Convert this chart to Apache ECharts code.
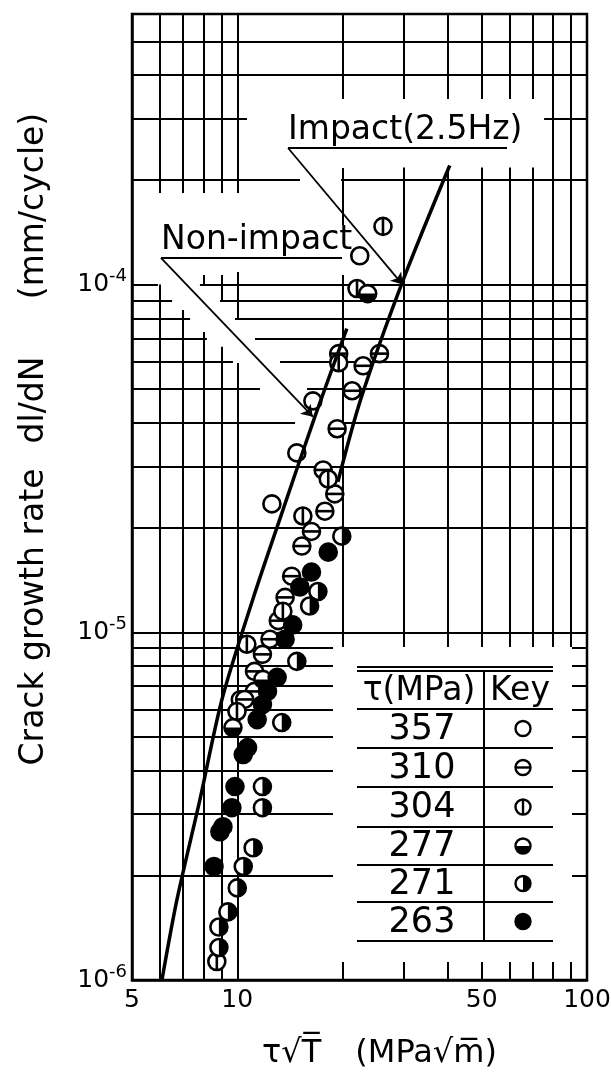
<!DOCTYPE html>
<html>
<head>
<meta charset="utf-8">
<script src="https://cdn.jsdelivr.net/npm/echarts@6/dist/echarts.min.js"></script>
<style>
html, body { margin: 0; padding: 0; background: #fff; }
#chart { width: 611px; height: 1072px; }
</style>
</head>
<body>
<div id="chart"></div>
<script>
// stress levels (MPa), same order as the key table
const tauLevels = ['357', '310', '304', '277', '271', '263'];
const keyKinds = ['open', 'hline', 'vline', 'bottom', 'right', 'filled'];

// tau*sqrt(T) (MPa m^1/2) vs dl/dN (mm/cycle)
const x357 = [22.4, 16.45, 14.8, 12.56, 10.2];
const y357 = [1.21e-4, 4.63e-5, 3.28e-5, 2.34e-5, 6.4e-6];

const x310 = [19.5, 25.5, 22.9, 21.3, 19.3, 17.6, 19.0, 17.8, 16.3, 15.3, 14.3, 13.7, 13.1, 12.4, 11.8, 11.2, 11.2, 10.5];
const y310 = [6.33e-5, 6.33e-5, 5.84e-5, 4.95e-5, 3.85e-5, 2.93e-5, 2.50e-5, 2.23e-5, 1.95e-5, 1.77e-5, 1.45e-5, 1.26e-5, 1.08e-5, 9.55e-6, 8.64e-6, 7.72e-6, 6.76e-6, 6.41e-6];

const x304 = [26.1, 22.0, 19.5, 18.2, 15.4, 13.5, 10.65, 9.98, 8.74];
const y304 = [1.47e-4, 9.74e-5, 5.96e-5, 2.76e-5, 2.16e-5, 1.15e-5, 9.24e-6, 5.92e-6, 1.13e-6];

const x277 = [23.6, 9.72, 11.84];
const y277 = [9.42e-5, 5.32e-6, 7.32e-6];

const x271 = [19.9, 17.0, 16.1, 14.8, 13.4, 11.8, 11.8, 11.1, 10.4, 10.0, 9.4, 8.86, 8.86];
const y271 = [1.89e-5, 1.31e-5, 1.19e-5, 8.25e-6, 5.50e-6, 3.60e-6, 3.13e-6, 2.40e-6, 2.12e-6, 1.84e-6, 1.57e-6, 1.42e-6, 1.24e-6];

const x263 = [18.2, 16.3, 15.1, 14.4, 13.7, 13.0, 12.2, 11.8, 11.4, 10.7, 10.4, 9.85, 9.65, 9.1, 8.92, 8.58];
const y263 = [1.70e-5, 1.49e-5, 1.35e-5, 1.05e-5, 9.55e-6, 7.42e-6, 6.76e-6, 6.20e-6, 5.61e-6, 4.66e-6, 4.45e-6, 3.60e-6, 3.13e-6, 2.76e-6, 2.67e-6, 2.12e-6];

// fitted bands
const nonImpactX = [6.09, 6.72, 7.82, 9.04, 11.08, 13.24, 16.67, 20.57];
const nonImpactY = [1.0e-6, 1.7e-6, 3.3e-6, 6.41e-6, 1.245e-5, 2.12e-5, 4.17e-5, 7.47e-5];
const impactX = [19.4, 22.56, 29.54, 40.5];
const impactY = [2.71e-5, 4.69e-5, 1.007e-4, 2.2e-4];

// arrows from the labels to the lines
const impactArrow = [[13.97, 2.47e-4], [29.7, 1.0e-4]];
const nonImpactArrow = [[6.05, 1.193e-4], [16.45, 4.17e-5]];

// axis labels
const xTickLabels = [5, 10, 50, 100];
const yTickLabels = [1e-6, 1e-5, 1e-4];

// log paper, drawn in pieces as on the original (erased round the labels and the key)
// vertical: [x, [yFrom, yTo], ...]
const vGrid = [
    [6, [1.834e-4, 6e-4], [1e-6, 1e-4]],
    [7, [1.834e-4, 6e-4], [1e-6, 8.45e-5]],
    [8, [1.834e-4, 6e-4], [1e-4, 1.066e-4], [1e-6, 7.31e-5]],
    [9, [1.834e-4, 6e-4], [9e-5, 1.066e-4], [1e-6, 6.62e-5]],
    [10, [1.834e-4, 6e-4], [8e-5, 1.087e-4], [1e-6, 5.95e-5]],
    [20, [3.42e-4, 6e-4], [1.484e-4, 2.165e-4], [9.07e-6, 1.066e-4], [1e-6, 1.127e-6]],
    [30, [3.42e-4, 6e-4], [9.07e-6, 2.17e-4], [1e-6, 1.127e-6]],
    [40, [3.42e-4, 6e-4], [9.07e-6, 2.17e-4], [1e-6, 1.127e-6]],
    [50, [3.42e-4, 6e-4], [9.07e-6, 2.17e-4], [1e-6, 1.127e-6]],
    [60, [3.42e-4, 6e-4], [9.07e-6, 2.17e-4], [1e-6, 1.127e-6]],
    [70, [3.42e-4, 6e-4], [9.07e-6, 2.17e-4], [1e-6, 1.127e-6]],
    [80, [9.07e-6, 6e-4], [1e-6, 1.127e-6]],
    [90, [9.07e-6, 6e-4], [1e-6, 1.127e-6]]
];
// horizontal: [y, [xFrom, xTo], ...]
const hGrid = [
    [5e-4, [5, 100]],
    [4e-4, [5, 100]],
    [3e-4, [5, 10.66], [75.4, 100]],
    [2e-4, [5, 15.11], [19.8, 100]],
    [1e-4, [5, 5.93], [7.82, 100]],
    [9e-5, [5, 6.51], [8.92, 100]],
    [8e-5, [5, 7.33], [9.85, 100]],
    [7e-5, [5, 8.19], [11.24, 100]],
    [6e-5, [5, 9.72], [13.25, 100]],
    [5e-5, [5, 11.61], [15.83, 100]],
    [4e-5, [5, 14.63], [18.42, 100]],
    [3e-5, [5, 100]],
    [2e-5, [5, 100]],
    [1e-5, [5, 100]],
    [9e-6, [5, 18.78], [90.6, 100]],
    [8e-6, [5, 18.78], [90.6, 100]],
    [7e-6, [5, 18.78], [90.6, 100]],
    [6e-6, [5, 18.78], [90.6, 100]],
    [5e-6, [5, 18.78], [90.6, 100]],
    [4e-6, [5, 18.78], [90.6, 100]],
    [3e-6, [5, 18.78], [90.6, 100]],
    [2e-6, [5, 18.78], [90.6, 100]]
];

const FONT = '"DejaVu Sans", sans-serif';
const zip = (xs, ys) => xs.map((x, i) => [x, ys[i]]);
const seriesX = [x357, x310, x304, x277, x271, x263];
const seriesY = [y357, y310, y304, y277, y271, y263];

const gridSegments = [];
vGrid.forEach(([x, ...spans]) => spans.forEach(s => gridSegments.push([{ coord: [x, s[0]] }, { coord: [x, s[1]] }])));
hGrid.forEach(([y, ...spans]) => spans.forEach(s => gridSegments.push([{ coord: [s[0], y] }, { coord: [s[1], y] }])));

const chart = echarts.init(document.getElementById('chart'));

function keyShape(kind, cx, cy, r, lw) {
    const shapes = [{
        type: 'circle',
        shape: { cx: cx, cy: cy, r: r },
        style: { fill: kind === 'filled' ? '#000' : '#fff', stroke: '#000', lineWidth: lw }
    }];
    if (kind === 'hline') {
        shapes.push({ type: 'line', shape: { x1: cx - r, y1: cy, x2: cx + r, y2: cy }, style: { stroke: '#000', lineWidth: lw } });
    } else if (kind === 'vline') {
        shapes.push({ type: 'line', shape: { x1: cx, y1: cy - r, x2: cx, y2: cy + r }, style: { stroke: '#000', lineWidth: lw } });
    } else if (kind === 'bottom') {
        shapes.push({ type: 'sector', shape: { cx: cx, cy: cy, r0: 0, r: r, startAngle: 0, endAngle: Math.PI }, style: { fill: '#000' } });
    } else if (kind === 'right') {
        shapes.push({ type: 'sector', shape: { cx: cx, cy: cy, r0: 0, r: r, startAngle: -Math.PI / 2, endAngle: Math.PI / 2 }, style: { fill: '#000' } });
    }
    return shapes;
}

const pointSeries = tauLevels.map((tau, i) => ({
    name: tau,
    type: 'custom',
    z: 8,
    silent: true,
    data: zip(seriesX[i], seriesY[i]),
    encode: { x: 0, y: 1 },
    renderItem: function (params, api) {
        const p = api.coord([api.value(0), api.value(1)]);
        return { type: 'group', children: keyShape(keyKinds[i], p[0], p[1], 8.5, 2.6) };
    }
}));

function label(text, x, y, size, extra) {
    return Object.assign({
        type: 'text', z: 12, x: x, y: y,
        style: { text: text, fontSize: size, fontFamily: FONT, fill: '#000', align: 'center', verticalAlign: 'middle' }
    }, extra || {});
}

// key table
const rowLines = [709, 748, 787, 827, 865, 902, 941];
const tableEls = [
    { type: 'line', z: 12, shape: { x1: 357, y1: 667, x2: 553, y2: 667 }, style: { stroke: '#000', lineWidth: 1.8 } },
    { type: 'line', z: 12, shape: { x1: 357, y1: 671, x2: 553, y2: 671 }, style: { stroke: '#000', lineWidth: 1.8 } },
    { type: 'line', z: 12, shape: { x1: 484, y1: 671, x2: 484, y2: 941 }, style: { stroke: '#000', lineWidth: 2 } },
    label('τ(MPa)', 419, 691, 33),
    label('Key', 520, 691, 33)
];
rowLines.forEach(y => {
    tableEls.push({ type: 'line', z: 12, shape: { x1: 357, y1: y, x2: 553, y2: y }, style: { stroke: '#000', lineWidth: 2 } });
});
tauLevels.forEach((tau, i) => {
    const cy = (rowLines[i] + rowLines[i + 1]) / 2;
    tableEls.push(label(tau, 422, cy + 1, 35));
    tableEls.push({ type: 'group', z: 12, children: keyShape(keyKinds[i], 523, cy, 7.5, 2.4).map(s => Object.assign(s, { z: 12 })) });
});

// labels on the plot, y title in its three pieces
const rot = { rotation: Math.PI / 2 };
const textEls = [
    { type: 'text', z: 12, x: 288, y: 147, style: { text: 'Impact(2.5Hz)', fontSize: 33, fontFamily: FONT, fill: '#000', align: 'left', verticalAlign: 'bottom' } },
    { type: 'line', z: 12, shape: { x1: 288, y1: 148, x2: 507, y2: 148 }, style: { stroke: '#000', lineWidth: 1.8 } },
    { type: 'text', z: 12, x: 161, y: 257, style: { text: 'Non-impact', fontSize: 33, fontFamily: FONT, fill: '#000', align: 'left', verticalAlign: 'bottom' } },
    { type: 'line', z: 12, shape: { x1: 161, y1: 258, x2: 342, y2: 258 }, style: { stroke: '#000', lineWidth: 1.8 } },
    label('Crack growth rate', 34, 617, 33, rot),
    label('dl/dN', 34, 400, 33, rot),
    label('(mm/cycle)', 34, 206, 33, rot)
];

const option = {
    animation: false,
    backgroundColor: '#fff',
    grid: {
        left: 132, right: 24, top: 14, bottom: 92,
        outerBoundsMode: 'none',
        show: true, borderColor: '#000', borderWidth: 2.5, containLabel: false
    },
    xAxis: {
        type: 'log',
        logBase: 10,
        min: 5,
        max: 100,
        name: '{a|τ√T\u0305}{b|(MPa√m\u0305)}',
        nameLocation: 'middle',
        nameGap: 58,
        nameTextStyle: {
            padding: [0, 0, 0, 40],
            rich: {
                a: { fontSize: 32, fontFamily: FONT, color: '#000', padding: [0, 34, 0, 0] },
                b: { fontSize: 32, fontFamily: FONT, color: '#000' }
            }
        },
        axisLine: { show: true, lineStyle: { color: '#000', width: 2.5 } },
        axisTick: { show: false },
        splitLine: { show: false },
        axisLabel: {
            customValues: xTickLabels,
            color: '#000',
            fontSize: 25,
            fontFamily: FONT,
            margin: 8,
            formatter: v => String(Math.round(v))
        }
    },
    yAxis: {
        type: 'log',
        logBase: 10,
        min: 1e-6,
        max: 6e-4,
        axisLine: { show: true, lineStyle: { color: '#000', width: 2.5 } },
        axisTick: { show: false },
        splitLine: { show: false },
        axisLabel: {
            customValues: yTickLabels,
            margin: 5,
            formatter: v => '{b|10}{s|' + Math.round(Math.log10(v)) + '}',
            rich: {
                b: { fontSize: 25, fontFamily: FONT, color: '#000', lineHeight: 34 },
                s: { fontSize: 18, fontFamily: FONT, color: '#000', lineHeight: 14, verticalAlign: 'top' }
            }
        }
    },
    graphic: { elements: tableEls.concat(textEls) },
    series: [
        {
            // paper grid
            type: 'line',
            silent: true,
            data: [],
            markLine: {
                z: 3,
                silent: true,
                symbol: 'none',
                label: { show: false },
                lineStyle: { color: '#000', width: 2, type: 'solid' },
                emphasis: { disabled: true },
                data: gridSegments
            }
        },
        {
            name: 'Non-impact',
            type: 'line',
            z: 9,
            silent: true,
            symbol: 'none',
            smooth: 0.3,
            data: zip(nonImpactX, nonImpactY),
            lineStyle: { color: '#000', width: 3.5 },
            markLine: {
                z: 10,
                silent: true,
                symbol: ['none', 'arrow'],
                symbolSize: 11,
                label: { show: false },
                lineStyle: { color: '#000', width: 1.8, type: 'solid' },
                emphasis: { disabled: true },
                data: [[{ coord: nonImpactArrow[0] }, { coord: nonImpactArrow[1] }]]
            }
        },
        {
            name: 'Impact (2.5Hz)',
            type: 'line',
            z: 9,
            silent: true,
            symbol: 'none',
            smooth: 0.3,
            data: zip(impactX, impactY),
            lineStyle: { color: '#000', width: 3.5 },
            markLine: {
                z: 10,
                silent: true,
                symbol: ['none', 'arrow'],
                symbolSize: 11,
                label: { show: false },
                lineStyle: { color: '#000', width: 1.8, type: 'solid' },
                emphasis: { disabled: true },
                data: [[{ coord: impactArrow[0] }, { coord: impactArrow[1] }]]
            }
        }
    ].concat(pointSeries)
};

chart.setOption(option);
</script>
</body>
</html>
